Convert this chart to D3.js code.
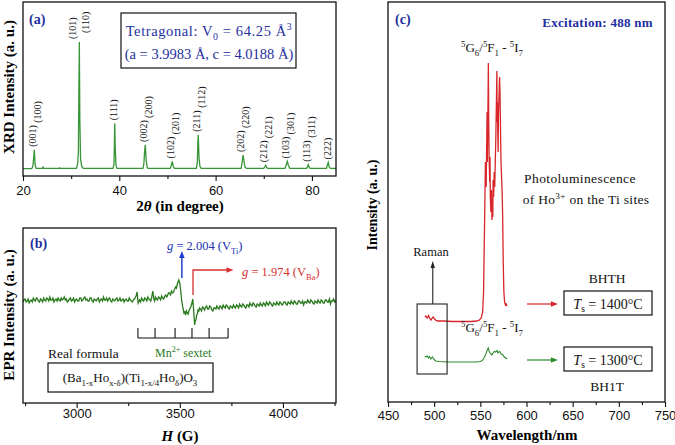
<!DOCTYPE html>
<html><head><meta charset="utf-8">
<script src="https://cdn.jsdelivr.net/npm/d3@7"></script>
<style>body{margin:0;background:#fff}svg{display:block}</style>
</head><body><svg id="c" width="675" height="445"></svg>
<script>
// ---------------- DATA ----------------
// (a) XRD pattern: [2theta, intensity]
const xrdPattern = [
[20,0.3],[21.8,0.3],[22.05,2],[22.22,9],[22.35,15.2],[22.5,4],[22.7,0.5],[24.0,0.5],[24.15,1.5],[24.3,0.5],[27.5,0.5],[27.6,1],[27.7,0.5],
[31.1,0.5],[31.35,4],[31.5,14],[31.6,60],[31.7,100],[31.8,40],[31.95,8],[32.2,2],[32.5,0.5],
[38.7,0.5],[38.9,4],[39.05,36],[39.15,18],[39.3,3],[39.5,0.5],
[44.9,0.5],[45.1,4],[45.25,14],[45.4,19],[45.55,8],[45.8,1],[46.0,0.5],
[50.6,0.5],[50.8,3],[51.0,6],[51.2,2],[51.45,0.5],
[56.0,0.5],[56.2,5],[56.3,20],[56.4,27],[56.55,9],[56.75,2],[57.0,0.5],
[65.3,0.5],[65.5,5],[65.7,11],[65.9,6],[66.1,1.5],[66.4,0.5],
[70.0,0.5],[70.25,2],[70.4,3],[70.6,1],[70.9,0.5],
[74.4,0.5],[74.65,3],[74.9,6],[75.1,3],[75.4,0.5],
[78.9,0.5],[79.1,2],[79.25,3.4],[79.45,1],[79.7,0.5],
[83.0,0.5],[83.2,3],[83.4,5.2],[83.6,1.5],[83.85,0.5],[85,0.4]
];
const xrdPeaks   = [22.35, 31.7, 39.05, 45.4, 51.0, 56.4, 65.7, 70.4, 74.9, 79.25, 83.4];
const xrdHeights = [15.2, 100, 36, 19, 6, 27, 11, 3, 6, 3.4, 5.2];
const xrdLabels  = [["(001)","(100)"],["(101)","(110)"],["(111)"],["(002)","(200)"],["(102)","(201)"],
                    ["(211)","(112)"],["(202)","(220)"],["(212)","(221)"],["(103)","(301)"],["(113)","(311)"],["(222)"]];
const xrdTicks = [20,40,60,80];
const xrdMinor = [30,50,70];

// (b) EPR spectrum: [H (G), intensity]
const eprSpectrum = [
[2740,-2],[2745,0],[2750,1],[2755,-2],[2760,-1],[2765,1],[2770,-3],[2775,-1],[2780,0],[2785,-2],[2790,2],[2795,0],[2800,-1],[2805,2],[2810,1],[2815,-1],[2820,-2],[2825,1],[2830,0],[2835,-2],[2840,2],[2845,0],[2850,-1],[2855,2],[2860,1],[2865,-1],[2870,3],[2875,0],[2880,0],[2885,2],[2890,-2],[2895,0],[2900,1],[2905,-1],[2910,2],[2915,0],[2920,-1],[2925,2],[2930,0],[2935,1],[2940,3],[2945,0],[2950,1],[2955,-2],[2960,-1],[2965,1],[2970,2],[2975,-1],[2980,0],[2985,2],[2990,-2],[2995,0],[3000,1],[3005,-1],[3010,-1],[3015,2],[3020,2],[3025,-1],[3030,0],[3035,2],[3040,3],[3045,0],[3050,1],[3055,-1],[3060,-1],[3065,2],[3070,2],[3075,-1],[3080,-2],[3085,1],[3090,0],[3095,-1],[3100,1],[3105,2],[3110,-2],[3115,0],[3120,1],[3125,-1],[3130,3],[3135,0],[3140,0],[3145,2],[3150,-1],[3155,1],[3160,2],[3165,-1],[3170,-2],[3175,1],[3180,0],[3185,-1],[3190,1],[3195,2],[3200,-1],[3205,0],[3210,2],[3215,-1],[3220,0],[3225,1],[3230,-2],[3235,0],[3240,1],[3245,-1],[3250,-1],[3255,2],[3260,0],[3265,-1],[3270,-2],[3275,0],[3280,1],
[3288,4],[3293,8],[3298,-3],[3305,0],[3310,-2],[3315,2],[3320,0],[3325,-1],[3330,2],[3335,1],[3340,-1],[3345,3],[3350,1],[3355,0],[3359,-1],[3363,2],[3369,9],[3374,1],[3378,-1],[3382,3],[3387,1],[3392,0],[3397,3],[3402,2],[3407,0],[3412,4],[3417,2],[3422,1],[3427,4],[3432,5],[3436,3],[3440,4],[3445,7],[3450,7],[3455,5],[3460,9],[3465,7],[3470,8],[3475,11],[3480,13],[3484,12],[3488,16],[3495,20],[3500,17],[3505,8],[3510,-2],[3516,-9],[3520,-13],[3524,-12],[3528,-15],[3532,-11],[3536,-13],[3540,-14],[3544,-11],[3548,-9],[3555,-6],[3560,-2],[3563,1],[3567,-10],[3572,-25],[3575,-21],[3578,-20],[3582,-15],[3585,-14],[3588,-10],[3592,-11],[3596,-8],[3600,-9],
[3605,-11],[3610,-7],[3615,-8],[3620,-10],[3625,-7],[3630,-6],[3635,-9],[3640,-9],[3645,-6],[3650,-7],[3655,-10],[3660,-11],[3665,-8],[3670,-8],[3675,-9],[3680,-6],[3685,-8],[3690,-9],[3695,-6],[3700,-7],[3705,-9],[3710,-5],[3715,-7],[3720,-8],[3725,-5],[3730,-6],[3735,-8],[3740,-9],[3745,-6],[3750,-7],[3755,-8],[3760,-5],[3765,-7],[3770,-8],[3775,-5],[3780,-6],[3785,-8],[3790,-4],[3795,-6],[3800,-7],[3805,-4],[3810,-5],[3815,-7],[3820,-8],[3825,-5],[3830,-5],[3835,-7],[3840,-3],[3845,-5],[3850,-6],[3855,-3],[3860,-4],[3865,-6],[3870,-7],[3875,-4],[3880,-5],[3885,-6],[3890,-3],[3895,-5],[3900,-6],[3905,-3],[3910,-4],[3915,-6],[3920,-2],[3925,-4],[3930,-5],[3935,-2],[3940,-3],[3945,-5],[3950,-6],[3955,-3],[3960,-4],[3965,-5],[3970,-2],[3975,-4],[3980,-5],[3985,-2],[3990,-3],[3995,-5],[4000,-4],[4005,-2],[4010,-2],[4015,-4],[4020,-5],[4025,-2],[4030,-3],[4035,-4],[4040,-1],[4045,-3],[4050,-4],[4055,-1],[4060,-2],[4065,-4],[4070,-4],[4075,-1],[4080,-1],[4085,-3],[4090,-3],[4095,-1],[4100,-5],[4105,-2],[4110,-2],[4115,-3],[4120,0],[4125,-2],[4130,-3],[4135,0],[4140,-1],[4145,-3],[4150,-4],[4155,-1],[4160,-2],[4165,-3],[4170,0],[4175,-2],[4180,-3],[4185,0],[4190,-1],[4195,-3],[4200,-3],[4205,0],[4210,0],[4215,-2],[4220,-2],[4225,1],[4230,-4],[4235,-1],[4240,-1],[4245,1],[4250,-2],[4257,0]
];
const mnSextet = [3297, 3380, 3477, 3559, 3642, 3734];
const eprTicks = [3000,3500,4000];
const eprMinor = [2750,3250,3750,4250];

// (c) PL spectra: [wavelength (nm), intensity]
const bhthSpectrum = [
[490,85],[491,86],[492.5,84],[494,86.5],[495,84],[496.5,82],[498,84],[499,85],[500.5,83],[502,81.5],[504,81],[510,81],[520,80.5],[530,80.5],[540,80.5],[546,81],[549,82],[551,84],[552.5,90],[553.5,110],[554.3,160],[555,205],[555.5,240],[555.8,225],[556.3,215],[556.8,250],[557.3,290],[557.6,240],[557.8,255],[558.3,300],[558.7,339],[559.1,280],[559.6,240],[560.2,220],[560.5,245],[560.8,205],[561.4,190],[562,212],[562.6,182],[563.2,200],[563.5,185],[563.8,222],[564.4,205],[565,230],[565.6,215],[566.2,240],[566.8,265],[567.4,300],[567.9,331],[568.2,280],[568.4,300],[569,265],[569.3,250],[569.6,285],[570.2,305],[570.8,325],[571.3,310],[571.9,270],[572.4,240],[573,225],[573.6,210],[574.2,185],[574.8,140],[575.5,110],[576.3,100],[577.2,97],[578,98],[579,96]
];
const bh1tSpectrum = [
[490,46],[491,45],[492.5,46],[494,44],[495,45.5],[496.5,43],[498,45],[499,44],[500.5,42],[502,41],[505,40.5],[515,40],[530,40],[545,40],[550,40.5],[552,41.5],[554,44],[556,48],[557.5,52],[558.6,54],[559.5,51],[560.5,49],[561.5,48],[562.6,47],[563.8,49],[565,50.5],[566.5,50],[568,51.5],[569,49],[570,50],[571,50.5],[572.5,48],[574.5,47],[576,45],[577.5,44],[579,43]
];
const plTicks = [450,500,550,600,650,700,750];
const plMinor = [475,525,575,625,675,725];

// ---------------- DRAW ----------------
const svg = d3.select("#c");
const SERIF = "'Liberation Serif','Times New Roman',serif";
const SANS = "'Liberation Sans',Arial,sans-serif";
const BLUE = "#1f2fa0", RED = "#d8262a", GREEN_A = "#389538", GREEN_B = "#2a7a1e", GREEN_C = "#2e8b2e";

function rich(g, x, y, parts, o) {
  o = o || {};
  const size = o.size || 13;
  const t = g.append("text").attr("x", x).attr("y", y)
    .attr("font-family", o.family || SERIF).attr("font-size", size)
    .attr("fill", o.fill || "#000").attr("text-anchor", o.anchor || "start")
    .attr("font-weight", o.weight || "normal");
  if (o.rotate) t.attr("transform", `rotate(${o.rotate},${x},${y})`);
  if (o.ls) t.attr("letter-spacing", o.ls);
  let cur = 0;
  parts.forEach(p => {
    const s = typeof p === "string" ? {t: p} : p;
    const off = s.sub ? 0.28 * size : s.sup ? -0.38 * size : 0;
    const ts = t.append("tspan").text(s.t).attr("font-size", (s.sub || s.sup) ? size * 0.68 : size);
    if (off !== cur) { ts.attr("dy", off - cur); cur = off; }
    if (s.it) ts.attr("font-style", "italic");
  });
  return t;
}

function frame(x0, y0, x1, y1) {
  svg.append("rect").attr("x", x0).attr("y", y0).attr("width", x1 - x0).attr("height", y1 - y0)
    .attr("fill", "none").attr("stroke", "#111").attr("stroke-width", 1.3);
}

function bottomAxis(scale, y, major, minor, pad) {
  svg.append("g").attr("transform", `translate(0,${y})`)
    .call(d3.axisBottom(scale).tickValues(major).tickSize(5).tickSizeOuter(0).tickPadding(pad).tickFormat(d3.format("d")))
    .call(a => { a.select(".domain").remove();
      a.selectAll("line").attr("stroke", "#111").attr("stroke-width", 1.1);
      a.selectAll("text").attr("font-family", SANS).attr("font-size", 13).attr("fill", "#111"); });
  svg.append("g").attr("transform", `translate(0,${y})`)
    .call(d3.axisBottom(scale).tickValues(minor).tickSize(3).tickSizeOuter(0).tickFormat(""))
    .call(a => { a.select(".domain").remove(); a.selectAll("line").attr("stroke", "#111").attr("stroke-width", 1.1); });
}

function arrowHead(x, y, dir, color, len, half) {
  len = len || 7; half = half || 3;
  let p;
  if (dir === "up") p = [[x, y], [x - half, y + len], [x + half, y + len]];
  else p = [[x, y], [x - len, y - half], [x - len, y + half]];
  svg.append("path").attr("d", "M" + p.map(q => q.join(",")).join("L") + "Z").attr("fill", color);
}

// ===== Panel (a) XRD =====
const xA = d3.scaleLinear().domain([20, 85]).range([23, 336]);
const yA = d3.scaleLinear().domain([-5.5, 131.5]).range([176, 2]);
svg.append("path").datum(xrdPattern)
  .attr("d", d3.line().x(d => xA(d[0])).y(d => yA(d[1])))
  .attr("fill", "none").attr("stroke", GREEN_A).attr("stroke-width", 1.3);
frame(23, 2, 336, 176);
bottomAxis(xA, 176, xrdTicks, xrdMinor, 5);

// peak labels
const labLen = 21;
xrdPeaks.forEach((p, i) => {
  const px = xA(p), top = yA(xrdHeights[i]) - 3;
  const labs = xrdLabels[i];
  const put = (txt, x, yb) => svg.append("text").attr("transform", `translate(${x},${yb}) rotate(-90)`)
    .attr("dy", "0.33em").attr("font-family", SERIF).attr("font-size", 10).attr("fill", "#111").text(txt);
  if (labs.length === 1) { put(labs[0], px - 1, top); return; }
  const stackedTop = top - 2 * labLen - 3;
  if (stackedTop > 8) { put(labs[0], px - 2, top); put(labs[1], px + 3, top - labLen - 3); }
  else { put(labs[0], px - 7, top); put(labs[1], px + 6, top - 6); }
});

svg.append("text").attr("x", 29).attr("y", 24).attr("font-family", SERIF).attr("font-weight", "bold")
  .attr("font-size", 14).attr("fill", BLUE).text("(a)");
svg.append("rect").attr("x", 121).attr("y", 13).attr("width", 175).attr("height", 55)
  .attr("fill", "#fff").attr("stroke", "#111").attr("stroke-width", 1.2);
rich(svg, 209, 36, ["Tetragonal: V", {t: "0", sub: true}, " = 64.25 Å", {t: "3", sup: true}], {anchor: "middle", fill: BLUE, size: 14.5, ls: 0.6});
rich(svg, 209, 59, ["(a = 3.9983 Å, c = 4.0188 Å)"], {anchor: "middle", fill: BLUE, size: 14.5});

rich(svg, 180, 211, ["2", {t: "θ", it: true}, " (in degree)"], {anchor: "middle", weight: "bold", size: 15});
rich(svg, 14, 87, ["XRD Intensity (a. u.)"], {anchor: "middle", weight: "bold", size: 15, rotate: -90});

// ===== Panel (b) EPR =====
const xB = d3.scaleLinear().domain([2740, 4257]).range([23, 336]);
const yB = d3.scaleLinear().domain([-103, 72]).range([403, 228]);
svg.append("path").datum(eprSpectrum)
  .attr("d", d3.line().x(d => xB(d[0])).y(d => yB(d[1])))
  .attr("fill", "none").attr("stroke", GREEN_B).attr("stroke-width", 1.3);
frame(23, 228, 336, 403);
bottomAxis(xB, 403, eprTicks, eprMinor, 1);

svg.append("text").attr("x", 30).attr("y", 248).attr("font-family", SERIF).attr("font-weight", "bold")
  .attr("font-size", 14).attr("fill", BLUE).text("(b)");
// blue arrow g=2.004
svg.append("line").attr("x1", xB(3510)).attr("x2", xB(3510)).attr("y1", yB(22)).attr("y2", yB(44))
  .attr("stroke", "#2040d0").attr("stroke-width", 1.5);
arrowHead(xB(3510), yB(49), "up", "#2040d0", 7, 2.8);
rich(svg, 167, 250, [{t: "g", it: true}, " = 2.004 (V", {t: "Ti", sub: true}, ")"], {fill: "#2030b0", size: 12.5});
// red bracket g=1.974
svg.append("path").attr("d", `M${xB(3564)},${yB(5)}V${yB(30)}H${xB(3740)}`)
  .attr("fill", "none").attr("stroke", "#d83030").attr("stroke-width", 1.3);
arrowHead(xB(3760), yB(30), "right", "#d83030", 7, 2.8);
rich(svg, 242, 276, [{t: "g", it: true}, " = 1.974 (V", {t: "Ba", sub: true}, ")"], {fill: "#d83030", size: 12.5});
// Mn sextet comb
const combY = yB(-38), combTop = yB(-28);
svg.append("line").attr("x1", xB(mnSextet[0])).attr("x2", xB(mnSextet[mnSextet.length - 1]))
  .attr("y1", combY).attr("y2", combY).attr("stroke", "#111").attr("stroke-width", 1.1);
svg.selectAll(".mn").data(mnSextet).enter().append("line")
  .attr("x1", d => xB(d)).attr("x2", d => xB(d)).attr("y1", combY).attr("y2", combTop)
  .attr("stroke", "#111").attr("stroke-width", 1.1);
rich(svg, 155, 357, ["Mn", {t: "2+", sup: true}, " sextet"], {fill: GREEN_B, size: 12});
rich(svg, 48, 358, ["Real formula"], {size: 13.5, fill: "#111"});
svg.append("rect").attr("x", 48).attr("y", 363).attr("width", 165).attr("height", 29)
  .attr("fill", "#fff").attr("stroke", "#111").attr("stroke-width", 1.2);
rich(svg, 130, 382, ["(Ba", {t: "1-x", sub: true}, "Ho", {t: "x-δ", sub: true}, ")(Ti", {t: "1-x/4", sub: true}, "Ho", {t: "δ", sub: true}, ")O", {t: "3", sub: true}],
  {anchor: "middle", size: 13, fill: "#111"});

rich(svg, 180, 441, [{t: "H", it: true}, " (G)"], {anchor: "middle", weight: "bold", size: 15});
rich(svg, 14, 315, ["EPR Intensity (a. u.)"], {anchor: "middle", weight: "bold", size: 15, rotate: -90});

// ===== Panel (c) PL =====
const xC = d3.scaleLinear().domain([450, 750]).range([388, 665]);
const yC = d3.scaleLinear().domain([0, 400]).range([402, 2]);
const lineC = d3.line().x(d => xC(d[0])).y(d => yC(d[1]));
svg.append("path").datum(bhthSpectrum).attr("d", lineC).attr("fill", "none").attr("stroke", RED).attr("stroke-width", 1.3);
svg.append("path").datum(bh1tSpectrum).attr("d", lineC).attr("fill", "none").attr("stroke", GREEN_C).attr("stroke-width", 1.1);
frame(388, 2, 665, 402);
bottomAxis(xC, 402, plTicks, plMinor, 4);

svg.append("text").attr("x", 395).attr("y", 24).attr("font-family", SERIF).attr("font-weight", "bold")
  .attr("font-size", 14).attr("fill", BLUE).text("(c)");
svg.append("text").attr("x", 653).attr("y", 27).attr("text-anchor", "end").attr("font-family", SERIF)
  .attr("font-weight", "bold").attr("font-size", 13).attr("letter-spacing", 0.3).attr("fill", BLUE).text("Excitation: 488 nm");
const transParts = [{t: "5", sup: true}, "G", {t: "6", sub: true}, "/", {t: "5", sup: true}, "F", {t: "1", sub: true}, " - ", {t: "5", sup: true}, "I", {t: "7", sub: true}];
rich(svg, 492, 52, transParts, {anchor: "middle", size: 13, fill: "#111"});
rich(svg, 492, 332, transParts, {anchor: "middle", size: 13, fill: "#111"});
rich(svg, 580, 183, ["Photoluminescence"], {anchor: "middle", size: 13.5, fill: "#111", ls: 0.4});
rich(svg, 586, 204, ["of Ho", {t: "3+", sup: true}, " on the Ti sites"], {anchor: "middle", size: 13.5, fill: "#111", ls: 0.3});

// Raman box and arrow
svg.append("rect").attr("x", xC(481.5)).attr("y", yC(98)).attr("width", xC(514) - xC(481.5)).attr("height", yC(28) - yC(98))
  .attr("fill", "none").attr("stroke", "#222").attr("stroke-width", 1.1);
svg.append("line").attr("x1", xC(498.5)).attr("x2", xC(498.5)).attr("y1", yC(98)).attr("y2", yC(134))
  .attr("stroke", "#222").attr("stroke-width", 1.1);
arrowHead(xC(498.5), yC(141), "up", "#222", 7, 2.2);
rich(svg, 431, 256, ["Raman"], {anchor: "middle", size: 12.5, fill: "#111"});

// sample arrows and boxes
function sampleTag(val, color, label, labelY, tempTxt) {
  const y = yC(val);
  svg.append("line").attr("x1", xC(600.5)).attr("x2", xC(628)).attr("y1", y).attr("y2", y).attr("stroke", color).attr("stroke-width", 1.2);
  arrowHead(xC(634), y, "right", color, 7, 2.8);
  svg.append("rect").attr("x", 564).attr("y", y - 13).attr("width", 88).attr("height", 24)
    .attr("fill", "#fff").attr("stroke", "#111").attr("stroke-width", 1.2);
  rich(svg, 608, y + 4.5, [{t: "T", it: true}, {t: "s", sub: true}, " = " + tempTxt + "°C"], {anchor: "middle", size: 14, fill: "#111"});
  rich(svg, 607, labelY, [label], {anchor: "middle", size: 13.5, fill: "#111"});
}
sampleTag(98, RED, "BHTH", 283, "1400");
sampleTag(42, GREEN_C, "BH1T", 391, "1300");

rich(svg, 527, 440, ["Wavelength/nm"], {anchor: "middle", weight: "bold", size: 15});
rich(svg, 377, 205, ["Intensity (a. u.)"], {anchor: "middle", weight: "bold", size: 14, rotate: -90});
</script></body></html>
